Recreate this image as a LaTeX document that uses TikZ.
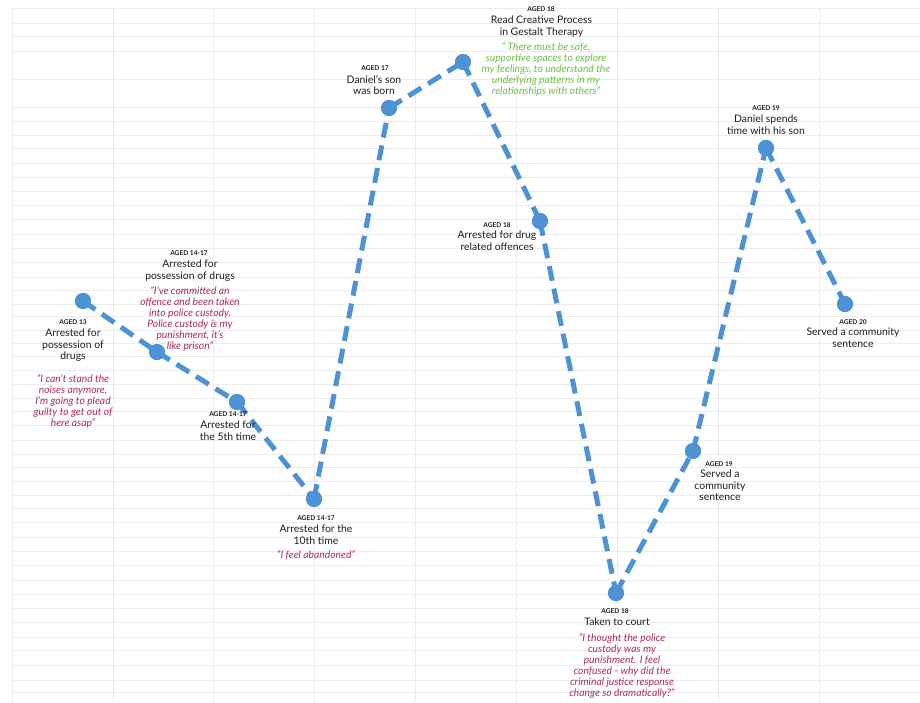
\documentclass[tikz,border=0pt]{standalone}
\usepackage{fontspec}
\setmainfont{Lato}
\definecolor{lineblue}{RGB}{78,146,214}
\definecolor{quotered}{RGB}{172,42,92}
\definecolor{quotegreen}{RGB}{110,190,70}
\definecolor{gridgray}{RGB}{236,236,236}
\definecolor{textdark}{RGB}{30,30,30}
\tikzset{
 dot/.style={circle,fill=lineblue,minimum size=16pt,inner sep=0pt},
 link/.style={lineblue,line width=5pt,dash pattern=on 15pt off 8pt},
 aged/.style={font=\fontsize{6.6}{7}\selectfont\bfseries,inner sep=0pt,anchor=base,text=textdark},
 ttl/.style={font=\fontsize{10.4}{11.5}\selectfont,align=center,inner sep=0pt,anchor=north,text=textdark},
 qt/.style={font=\fontsize{10.3}{11}\selectfont\itshape,align=center,inner sep=0pt,anchor=north,text=quotered},
 gqt/.style={qt,text=quotegreen},
 gridline/.style={gridgray,line width=0.9pt},
}
\begin{document}
\begin{tikzpicture}[x=1pt,y=-1pt]
\useasboundingbox[fill=white] (0,0) rectangle (920,702);
% grid
\foreach \yy in {8,23,36,51,79,107,121,135,148,163,177,191,205,219,234,248,262,277,290,304,316,330,343,356,370,384,398,411,425,440,454,467,481,495,508,522,537,551,565,580,594,608,622,637,650,665,680,692}
  \draw[gridline] (12,\yy) -- (920,\yy);
\foreach \xx in {12,113,213,314,415,516,617,718,819}
  \draw[gridline] (\xx,8) -- (\xx,702);
% points
\node[dot] (p1) at (83,301) {};
\node[dot] (p2) at (157,352) {};
\node[dot] (p3) at (237,402) {};
\node[dot] (p4) at (314,499) {};
\node[dot] (p5) at (389,108) {};
\node[dot] (p6) at (463,62) {};
\node[dot] (p7) at (540,221) {};
\node[dot] (p8) at (616,593) {};
\node[dot] (p9) at (693,451) {};
\node[dot] (p10) at (766,148) {};
\node[dot] (p11) at (845,304) {};
% connectors
\foreach \a/\b in {p1/p2,p2/p3,p3/p4,p4/p5,p5/p6,p6/p7,p7/p8,p8/p9,p9/p10,p10/p11}
  \draw[link] (\a.center) -- (\b.center);
% redraw dots on top
\foreach \p in {p1,p2,p3,p4,p5,p6,p7,p8,p9,p10,p11}
  \fill[lineblue] (\p.center) circle (8pt);
% labels
\node[aged] (a1) at (73,324.5) {AGED 13};
\node[ttl] (t1) at (73,329) {Arrested for\\possession of\\drugs};
\node[qt] (q1) at (73,375) {"I can't stand the\\noises anymore,\\I'm going to plead\\guilty to get out of\\here asap"};

\node[aged] (a2) at (189,255.5) {AGED 14-17};
\node[ttl] (t2) at (190,260) {Arrested for\\possession of drugs};
\node[qt] (q2) at (190,287) {"I've committed an\\offence and been taken\\into police custody.\\Police custody is my\\punishment, it's\\like prison"};

\node[aged] (a3) at (228,416.5) {AGED 14-17};
\node[ttl] (t3) at (228,421) {Arrested for\\the 5th time};

\node[aged] (a4) at (316,520.5) {AGED 14-17};
\node[ttl] (t4) at (316,525) {Arrested for the\\10th time};
\node[qt] (q4) at (316,551) {"I feel abandoned"};

\node[aged] (a5) at (375,70.5) {AGED 17};
\node[ttl] (t5) at (374,75) {Daniel's son\\was born};

\node[aged] (a6) at (541,11.5) {AGED 18};
\node[ttl] (t6) at (541.5,16) {Read Creative Process\\in Gestalt Therapy};
\node[gqt] (q6) at (546,43) {" There must be safe,\\supportive spaces to explore\\my feelings, to understand the\\underlying patterns in my\\relationships with others"};

\node[aged] (a7) at (497,227.5) {AGED 18};
\node[ttl] (t7) at (497,231) {Arrested for drug\\related offences};

\node[aged] (a8) at (615,613.5) {AGED 18};
\node[ttl] (t8) at (617,618) {Taken to court};
\node[qt] (q8) at (622,634) {"I thought the police\\custody was my\\punishment. I feel\\confused - why did the\\criminal justice response\\change so dramatically?"};

\node[aged] (a9) at (719,466.5) {AGED 19};
\node[ttl] (t9) at (720,470) {Served a\\community\\sentence};

\node[aged] (a10) at (766,110.5) {AGED 19};
\node[ttl] (t10) at (766,115) {Daniel spends\\time with his son};

\node[aged] (a11) at (853,324.5) {AGED 20};
\node[ttl] (t11) at (853,328) {Served a community\\sentence};
\end{tikzpicture}
\end{document}
